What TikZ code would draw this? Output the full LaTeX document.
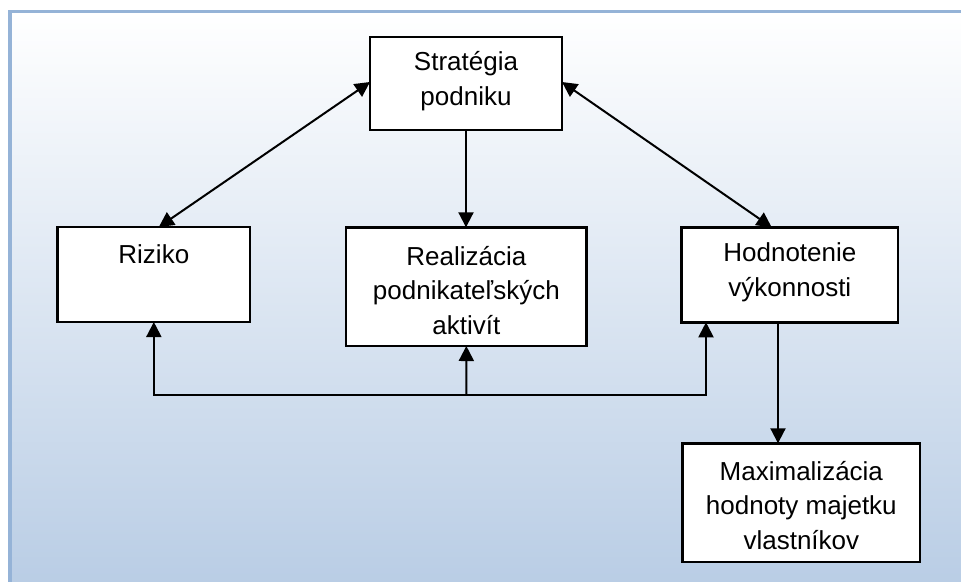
\documentclass[tikz,border=0pt]{standalone}
\usepackage{fontspec}
\setmainfont{Liberation Sans}
\usetikzlibrary{arrows.meta,calc}
\definecolor{bgblue}{RGB}{185,205,229}
\definecolor{frameblue}{RGB}{149,179,215}
\begin{document}
\begin{tikzpicture}[x=1pt,y=-1pt,
  box/.style={draw, line width=2.5pt, fill=white, inner sep=0pt, outer sep=0pt,
    anchor=north west, font=\fontsize{26}{34.5}\selectfont},
  arr/.style={line width=2pt, -{Triangle[length=15pt,width=15pt]}},
  dbl/.style={line width=2pt, {Triangle[length=15pt,width=15pt]}-{Triangle[length=15pt,width=15pt]}}]
\useasboundingbox (0,0) rectangle (961,581);
\begin{scope}
\clip (0,0) rectangle (961,581);
\shade[top color=white, bottom color=bgblue] (10,11.7) rectangle (975,585);
\draw[frameblue, line width=3.3pt] (10,11.7) rectangle (975,600);
\end{scope}
\node[box, minimum width=192pt, text height=33.7pt, text depth=59.3pt] (strat) at (370,37)
  {\parbox[t]{180pt}{\centering Stratégia\\podniku}};
\node[box, minimum width=192.3pt, text height=36.3pt, text depth=58.7pt] (riz) at (57.7,227)
  {\parbox[t]{180pt}{\centering Riziko}};
\node[box, minimum width=240.7pt, text height=37.7pt, text depth=81pt] (real) at (346,227.3)
  {\parbox[t]{230pt}{\centering Realizácia\\podnikateľských\\aktivít}};
\node[box, minimum width=216.3pt, text height=34.4pt, text depth=60.6pt] (hod) at (681.7,227.3)
  {\parbox[t]{200pt}{\centering Hodnotenie\\výkonnosti}};
\node[box, minimum width=237.3pt, text height=36.7pt, text depth=82pt] (max) at (682.7,443.3)
  {\parbox[t]{230pt}{\centering Maximalizácia\\hodnoty majetku\\vlastníkov}};
\coordinate (jn) at (466.3,395);
\coordinate (hodb) at ([xshift=96.3pt]hod.south west);
\draw[arr] (strat.south) -- (strat.south |- real.north);
\draw[dbl] ([yshift=1.5pt]strat.west) -- ([xshift=5pt]riz.north);
\draw[dbl] ([yshift=1.5pt]strat.east) -- ([xshift=90pt]hod.north west);
\draw[arr] (jn) -- (real.south);
\draw[arr] (jn) -| (riz.south);
\draw[arr] (jn) -| ([xshift=24.3pt]hod.south west);
\draw[arr] (hodb) -- (hodb |- max.north);
\end{tikzpicture}
\end{document}
